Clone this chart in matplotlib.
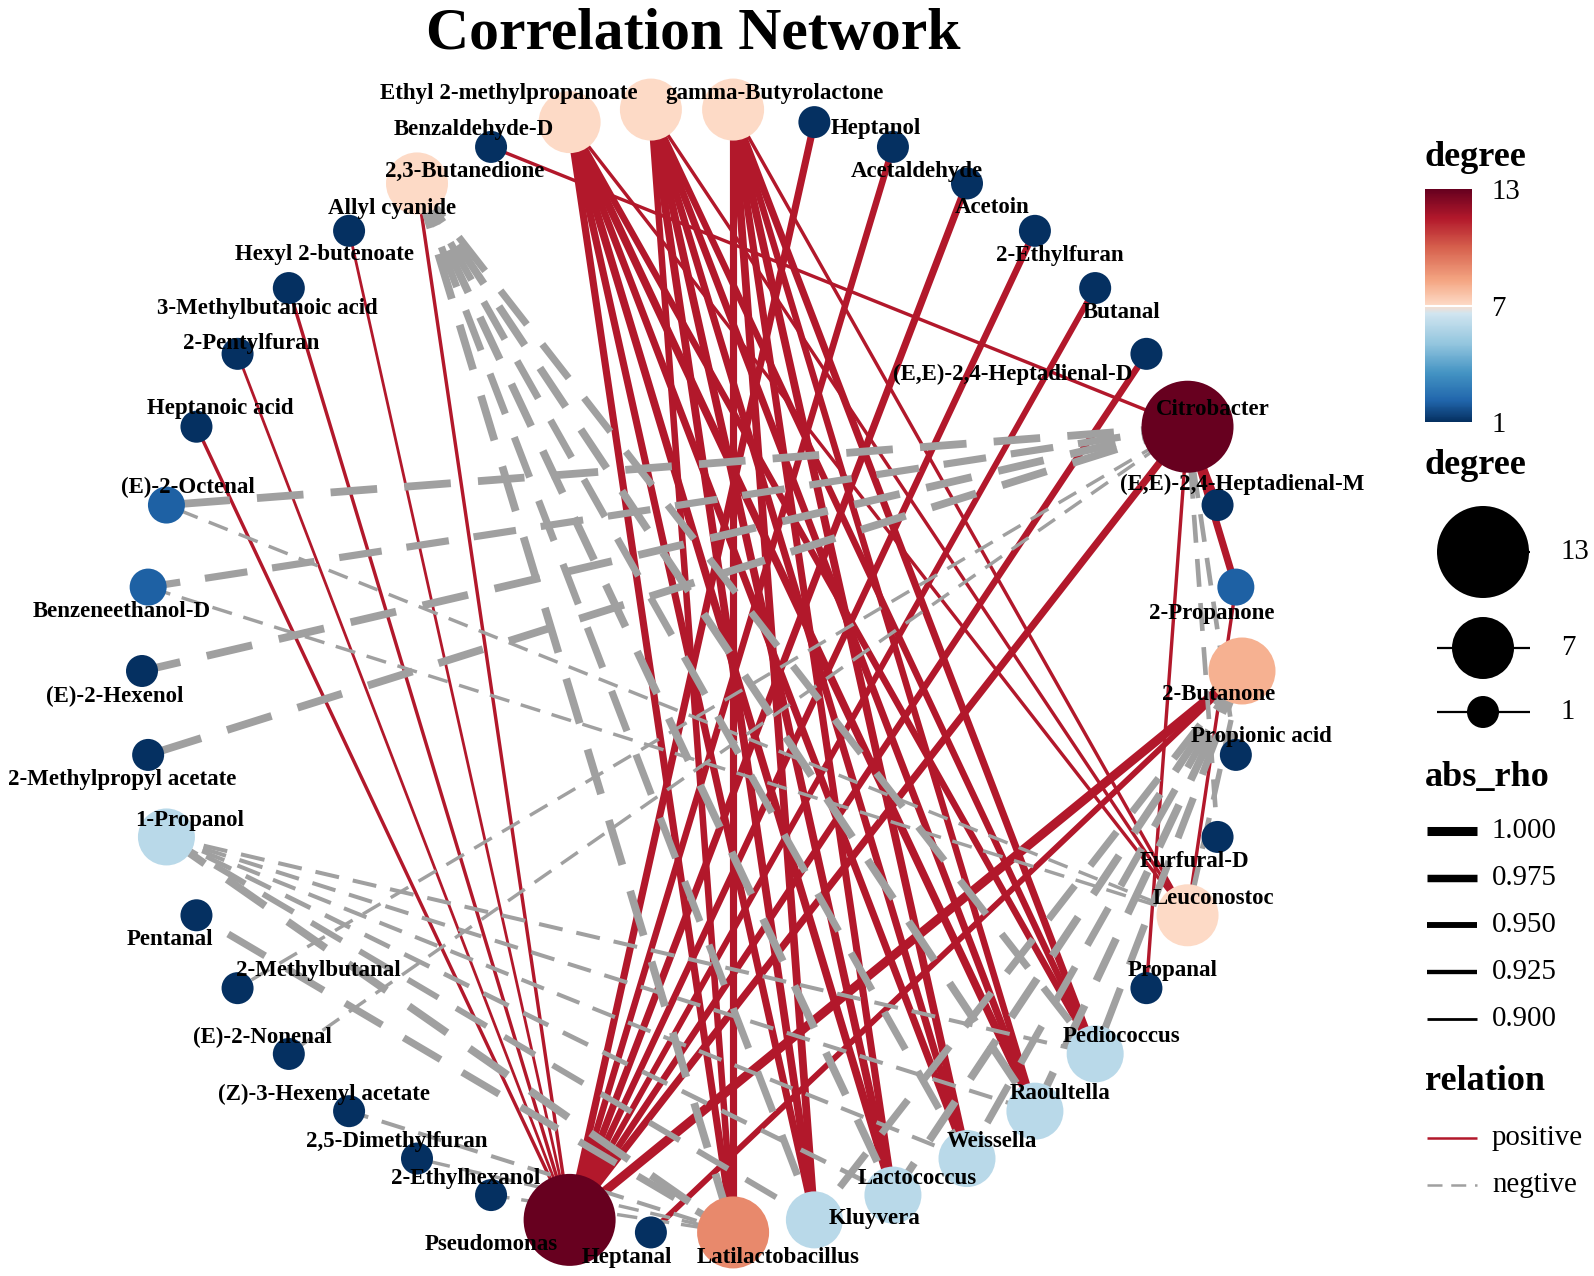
import numpy as np
import matplotlib
matplotlib.use("Agg")
import matplotlib.pyplot as plt
from matplotlib.colors import LinearSegmentedColormap, Normalize
from matplotlib.cm import ScalarMappable

plt.rcParams['font.family'] = ['Liberation Serif', 'DejaVu Serif']

# nodes in layout order (circle, counter-clockwise from the right)
nodes = [
    "2-Butanone", "2-Propanone", "(E,E)-2,4-Heptadienal-M", "Citrobacter",
    "(E,E)-2,4-Heptadienal-D", "Butanal", "2-Ethylfuran", "Acetoin",
    "Acetaldehyde", "Heptanol", "gamma-Butyrolactone", "Ethyl 2-methylpropanoate",
    "Benzaldehyde-D", "2,3-Butanedione", "Allyl cyanide", "Hexyl 2-butenoate",
    "3-Methylbutanoic acid", "2-Pentylfuran", "Heptanoic acid", "(E)-2-Octenal",
    "Benzeneethanol-D", "(E)-2-Hexenol", "2-Methylpropyl acetate", "1-Propanol",
    "Pentanal", "2-Methylbutanal", "(E)-2-Nonenal", "(Z)-3-Hexenyl acetate",
    "2,5-Dimethylfuran", "2-Ethylhexanol", "Pseudomonas", "Heptanal",
    "Latilactobacillus", "Kluyvera", "Lactococcus", "Weissella",
    "Raoultella", "Pediococcus", "Propanal", "Leuconostoc",
    "Furfural-D", "Propionic acid",
]

# (from, to, rho)  rho < 0 -> negative correlation
edge_list = [
    ("Pseudomonas", "Heptanol", 0.97),
    ("Pseudomonas", "Acetaldehyde", 0.96),
    ("Pseudomonas", "Acetoin", 0.97),
    ("Pseudomonas", "2-Ethylfuran", 0.96),
    ("Pseudomonas", "Butanal", 0.95),
    ("Pseudomonas", "(E,E)-2,4-Heptadienal-D", 0.96),
    ("Pseudomonas", "Allyl cyanide", 0.91),
    ("Pseudomonas", "Hexyl 2-butenoate", 0.90),
    ("Pseudomonas", "3-Methylbutanoic acid", 0.91),
    ("Pseudomonas", "2-Pentylfuran", 0.90),
    ("Pseudomonas", "Heptanoic acid", 0.91),
    ("Pseudomonas", "2-Butanone", 1.00),
    ("Pseudomonas", "Citrobacter", 0.97),
    ("Citrobacter", "2,3-Butanedione", 0.91),
    ("Citrobacter", "(E,E)-2,4-Heptadienal-M", 0.97),
    ("Citrobacter", "2-Propanone", 0.97),
    ("Citrobacter", "Propanal", 0.91),
    ("Citrobacter", "(E)-2-Octenal", -0.98),
    ("Citrobacter", "Benzeneethanol-D", -0.97),
    ("Citrobacter", "(E)-2-Hexenol", -0.98),
    ("Citrobacter", "2-Methylpropyl acetate", -0.98),
    ("Citrobacter", "2-Methylbutanal", -0.91),
    ("Citrobacter", "(E)-2-Nonenal", -0.91),
    ("Citrobacter", "Furfural-D", -0.93),
    ("Citrobacter", "Propionic acid", -0.93),
    ("gamma-Butyrolactone", "Latilactobacillus", 0.97),
    ("gamma-Butyrolactone", "Kluyvera", 0.98),
    ("gamma-Butyrolactone", "Lactococcus", 0.97),
    ("gamma-Butyrolactone", "Weissella", 0.98),
    ("gamma-Butyrolactone", "Raoultella", 0.96),
    ("gamma-Butyrolactone", "Pediococcus", 0.97),
    ("gamma-Butyrolactone", "Leuconostoc", 0.91),
    ("Ethyl 2-methylpropanoate", "Latilactobacillus", 0.96),
    ("Ethyl 2-methylpropanoate", "Kluyvera", 0.98),
    ("Ethyl 2-methylpropanoate", "Lactococcus", 0.98),
    ("Ethyl 2-methylpropanoate", "Weissella", 0.97),
    ("Ethyl 2-methylpropanoate", "Raoultella", 0.97),
    ("Ethyl 2-methylpropanoate", "Pediococcus", 0.96),
    ("Ethyl 2-methylpropanoate", "Leuconostoc", 0.91),
    ("Benzaldehyde-D", "Latilactobacillus", 0.97),
    ("Benzaldehyde-D", "Kluyvera", 0.97),
    ("Benzaldehyde-D", "Lactococcus", 0.98),
    ("Benzaldehyde-D", "Weissella", 0.97),
    ("Benzaldehyde-D", "Raoultella", 0.98),
    ("Benzaldehyde-D", "Pediococcus", 0.96),
    ("Benzaldehyde-D", "Leuconostoc", 0.91),
    ("Allyl cyanide", "Latilactobacillus", -0.98),
    ("Allyl cyanide", "Kluyvera", -0.97),
    ("Allyl cyanide", "Lactococcus", -0.98),
    ("Allyl cyanide", "Weissella", -0.97),
    ("Allyl cyanide", "Raoultella", -0.98),
    ("Allyl cyanide", "Pediococcus", -0.97),
    ("2-Butanone", "Heptanal", 0.95),
    ("2-Butanone", "Leuconostoc", -0.94),
    ("2-Butanone", "Kluyvera", -0.97),
    ("2-Butanone", "Lactococcus", -0.98),
    ("2-Butanone", "Weissella", -0.97),
    ("2-Butanone", "Raoultella", -0.98),
    ("2-Butanone", "Pediococcus", -0.97),
    ("1-Propanol", "Latilactobacillus", -0.98),
    ("1-Propanol", "Kluyvera", -0.95),
    ("1-Propanol", "Lactococcus", -0.93),
    ("1-Propanol", "Weissella", -0.92),
    ("1-Propanol", "Raoultella", -0.92),
    ("1-Propanol", "Pediococcus", -0.92),
    ("Leuconostoc", "(E)-2-Octenal", -0.91),
    ("Leuconostoc", "Benzeneethanol-D", -0.91),
    ("Leuconostoc", "2-Propanone", 0.91),
    ("Latilactobacillus", "2-Ethylhexanol", -0.91),
    ("Latilactobacillus", "2,5-Dimethylfuran", -0.91),
    ("Latilactobacillus", "(Z)-3-Hexenyl acetate", -0.92),
    ("Latilactobacillus", "Pentanal", -0.97),
]

# label shift from node centre, in pixels (right, down)
label_shift = [
    (-23, 22), (-24, 25), (25, -22), (25, -19), (-134, 19), (26, 23), (25, 23),
    (25, 23), (24, 23), (61, 5), (41, -18), (-142, -18), (-96, 6), (-26, 23),
    (-25, 24), (-25, 22), (-22, 19), (14, -12), (24, -20), (22, -19), (-26, 23),
    (-27, 24), (-26, 23), (23, -18), (-26, 23), (81, -19), (-26, -18), (-25, -18),
    (-20, -19), (-25, -18), (-78, 23), (-24, 24), (45, 24), (60, -3), (24, -18),
    (25, -19), (25, -19), (26, -19), (26, -19), (26, -18), (-23, 23), (26, -20),
]

legend_rho = [1.000, 0.975, 0.950, 0.925, 0.900]
legend_degree = [13, 7, 1]

n = len(nodes)
idx = {name: i for i, name in enumerate(nodes)}
theta = 2 * np.pi * np.arange(n) / n
xs, ys = np.cos(theta), np.sin(theta)

degree = np.zeros(n, dtype=int)
for a, b, r in edge_list:
    degree[idx[a]] += 1
    degree[idx[b]] += 1

# colour scale for degree
anchors = [1, 2.1, 3.5, 5, 6.6, 7, 8.3, 10, 11.5, 13]
pal = ['#053061', '#2166AC', '#4393C3', '#92C5DE', '#D1E5F0',
       '#FDDBC7', '#F4A582', '#D6604D', '#B2182B', '#67001F']
cmap = LinearSegmentedColormap.from_list(
    'deg', list(zip((np.array(anchors) - 1) / 12, pal)))
norm = Normalize(1, 13)

PX = 0.72  # points per pixel at dpi 100
RED = '#B2182B'
GREY = '#A0A0A0'
DASH = (0, (6, 3.5))


def node_size(d):
    return (PX * (32 + 5 * (np.asarray(d) - 1))) ** 2


def edge_width(rho):
    return 2.0 + 45 * (abs(rho) - 0.9)


W, H = 1594, 1276
fig = plt.figure(figsize=(W / 100, H / 100), dpi=100)
ax = fig.add_axes([142 / W, (H - 1234) / H, 1100 / W, 1126 / H])
ax.set_xlim(-1, 1)
ax.set_ylim(-1, 1)
ax.axis('off')

# edges: positive first, negative on top
for positive in (True, False):
    for a, b, r in edge_list:
        if (r > 0) != positive:
            continue
        i, j = idx[a], idx[b]
        ax.plot([xs[i], xs[j]], [ys[i], ys[j]],
                color=RED if r > 0 else GREY, lw=edge_width(r),
                linestyle='-' if r > 0 else DASH,
                solid_capstyle='butt', dash_capstyle='butt',
                zorder=1, clip_on=False)

ax.scatter(xs, ys, s=node_size(degree), c=degree, cmap=cmap, norm=norm,
           edgecolors='none', zorder=3, clip_on=False)

for i, name in enumerate(nodes):
    dx, dy = label_shift[i]
    ax.annotate(name, (xs[i], ys[i]), xytext=(dx * PX, -(dy + 7) * PX),
                textcoords='offset points', ha='center', va='baseline',
                fontsize=16.5, fontweight='bold', zorder=5,
                annotation_clip=False)

fig.text(693 / W, 1 - 49 / H, "Correlation Network", ha='center',
         va='baseline', fontsize=43, fontweight='bold')

# legends, in pixel coordinates
lax = fig.add_axes([0, 0, 1, 1])
lax.set_xlim(0, W)
lax.set_ylim(H, 0)
lax.axis('off')

lax.text(1425, 166, "degree", fontsize=26, fontweight='bold', va='baseline')
cax = fig.add_axes([1425 / W, 1 - 422 / H, 47 / W, 233 / H])
cb = fig.colorbar(ScalarMappable(norm=norm, cmap=cmap), cax=cax, ticks=[1, 7, 13])
cb.outline.set_visible(False)
cax.tick_params(length=0, labelsize=20.8, pad=14)
cax.hlines([7], 0, 1, colors='white', lw=1.5)

lax.text(1425, 474, "degree", fontsize=26, fontweight='bold', va='baseline')
for d, y in zip(legend_degree, [552, 648, 712]):
    lax.plot([1437, 1530], [y, y], color='black', lw=1.6, solid_capstyle='butt')
    lax.scatter([1483], [y], s=node_size(d), color='black', edgecolors='none')
    lax.text(1561, y, str(d), fontsize=20.8, va='center', ha='left')

lax.text(1425, 786, "abs_rho", fontsize=26, fontweight='bold', va='baseline')
for r, y in zip(legend_rho, [831, 878, 925, 972, 1019]):
    lax.plot([1427, 1477], [y, y], color='black', lw=edge_width(r),
             solid_capstyle='butt')
    lax.text(1492, y, f"{r:.3f}", fontsize=20.8, va='center', ha='left')

lax.text(1425, 1090, "relation", fontsize=26, fontweight='bold', va='baseline')
lax.plot([1427, 1477], [1138, 1138], color=RED, lw=1.8, solid_capstyle='butt')
lax.text(1492, 1138, "positive", fontsize=20.8, va='center', ha='left')
lax.plot([1427, 1477], [1185, 1185], color=GREY, lw=1.8, linestyle=DASH,
         dash_capstyle='butt')
lax.text(1492, 1185, "negtive", fontsize=20.8, va='center', ha='left')

fig.savefig("out.png", dpi=100)
